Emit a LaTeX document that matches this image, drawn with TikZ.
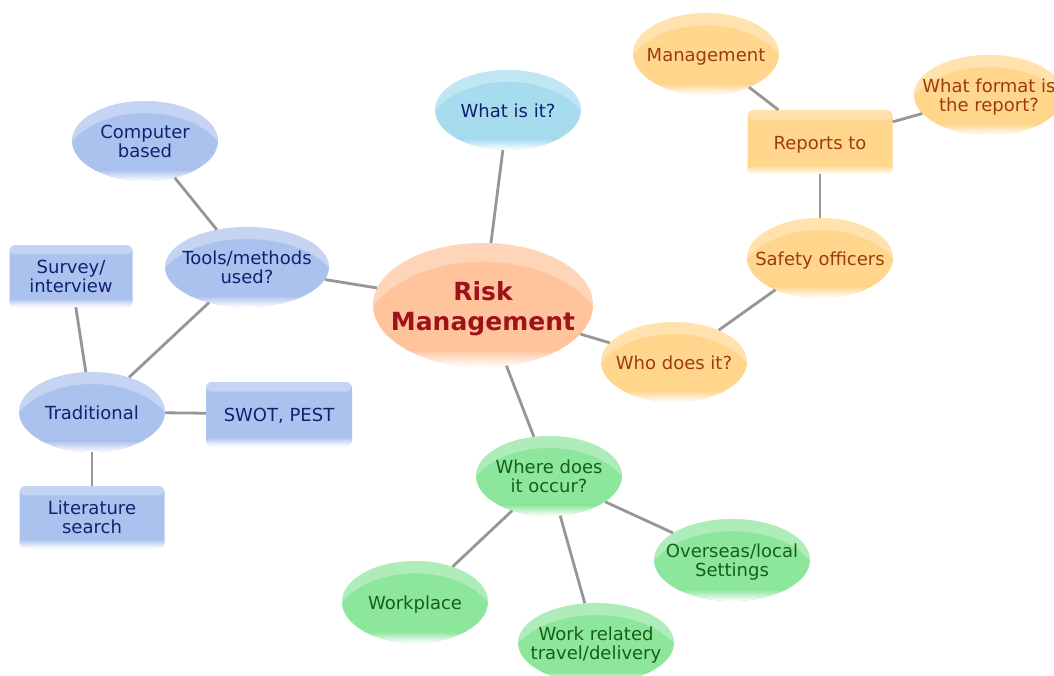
\documentclass[tikz,border=0pt]{standalone}
\usepackage{fontspec}
\setmainfont{DejaVu Sans}
\usetikzlibrary{shapes.geometric, calc}

\definecolor{bluefill}{RGB}{172,194,238}
\definecolor{bluetext}{RGB}{18,32,112}
\definecolor{cyanfill}{RGB}{166,220,238}
\definecolor{centrefill}{RGB}{255,196,156}
\definecolor{centretext}{RGB}{158,18,26}
\definecolor{orangefill}{RGB}{255,214,140}
\definecolor{orangetext}{RGB}{156,60,12}
\definecolor{greenfill}{RGB}{140,230,156}
\definecolor{greentext}{RGB}{22,96,22}
\definecolor{linegray}{RGB}{150,150,150}

% text that does not widen its node
\newcommand{\nodetext}[1]{\raisebox{-.42em}[0pt][0pt]{\makebox[0pt]{\begin{tabular}{@{}c@{}}#1\end{tabular}}}}

\begin{document}
\begin{tikzpicture}[x=1pt, y=-1pt,
  basecol/.code={\def\mapcol{#1}},
  basecol=bluefill,
  % lighter rim at the bottom
  fade/.code={\shade[top color=\mapcol, bottom color=white]
      ($(path picture bounding box.south west)!.14!(path picture bounding box.north west)$) rectangle
      (path picture bounding box.south east);},
  oval/.style={ellipse, inner sep=0pt, minimum width=146pt, minimum height=80pt,
    font=\fontsize{18}{19}\selectfont, fill=\mapcol, path picture={
      \fill[white, opacity=.3, even odd rule]
        let \p1=(path picture bounding box.south west), \p2=(path picture bounding box.north east) in
        (\p1) rectangle (\p2)
        ({(\x1+\x2)/2}, {.8*\y1+.2*\y2}) ellipse [x radius={.56*(\x2-\x1)}, y radius={.65*(\y2-\y1)}];
      \tikzset{fade}}},
  box/.style={rectangle, rounded corners=6pt, inner sep=0pt,
    minimum width=145pt, minimum height=62pt, font=\fontsize{18}{19}\selectfont, fill=\mapcol,
    path picture={
      \fill[white, opacity=.3] (path picture bounding box.north west) rectangle
        ($(path picture bounding box.north east)!.15!(path picture bounding box.south east)$);
      \tikzset{fade}}},
  blue/.style={basecol=bluefill, text=bluetext},
  orange/.style={basecol=orangefill, text=orangetext},
  green/.style={basecol=greenfill, text=greentext},
  link/.style={draw=linegray, line width=2.8pt}]
  \path[use as bounding box, clip] (0,0) rectangle (1054,675);

  % centre
  \node[basecol=centrefill, oval, text=centretext, minimum width=220pt, minimum height=124pt,
    font=\fontsize{25}{30}\selectfont\bfseries] (risk) at (483,305) {\nodetext{Risk\\Management}};
  \node[basecol=cyanfill, oval, text=bluetext] (what) at (508,110) {\nodetext{What is it?}};

  % tools branch
  \node[blue, oval, minimum width=164pt] (tools) at (247,267) {\nodetext{Tools/methods\\used?}};
  \node[blue, oval] (computer) at (145,141) {\nodetext{Computer\\based}};
  \node[blue, oval] (trad) at (92,412) {\nodetext{Traditional}};
  \node[blue, box, minimum width=123pt] (survey) at (71,276) {\nodetext{Survey/\\interview}};
  \node[blue, box, minimum width=146pt, minimum height=64pt] (swot) at (279,414) {\nodetext{SWOT, PEST}};
  \node[blue, box] (lit) at (92,517) {\nodetext{Literature\\search}};

  % who branch
  \node[orange, oval] (who) at (674,362) {\nodetext{Who does it?}};
  \node[orange, oval] (safety) at (820,258) {\nodetext{Safety officers}};
  \node[orange, box, minimum height=64pt] (reports) at (820,142) {\nodetext{Reports to}};
  \node[orange, oval, minimum height=82pt] (mgmt) at (706,54) {\nodetext{Management}};
  \node[orange, oval, minimum width=150pt] (format) at (989,95) {\nodetext{What format is\\the report?}};

  % where branch
  \node[green, oval] (where) at (549,476) {\nodetext{Where does\\it occur?}};
  \node[green, oval, minimum height=82pt] (workplace) at (415,602) {\nodetext{Workplace}};
  \node[green, oval, minimum width=156pt] (travel) at (596,643) {\nodetext{Work related\\travel/delivery}};
  \node[green, oval, minimum width=156pt, minimum height=82pt] (overseas) at (732,560) {\nodetext{Overseas/local\\Settings}};

  \draw[link] (risk) -- (what);
  \draw[link] (risk) -- (tools);
  \draw[link] (tools) -- (computer);
  \draw[link] (tools) -- (trad);
  \draw[link] (trad) -- (survey);
  \draw[link] (trad) -- (swot);
  \draw[link] (trad) -- (lit);
  \draw[link] (risk) -- (who);
  \draw[link] (who) -- (safety);
  \draw[link] (safety) -- (reports);
  \draw[link] (reports) -- (mgmt);
  \draw[link] (reports) -- (format);
  \draw[link] (risk) -- (where);
  \draw[link] (where) -- (workplace);
  \draw[link] (where) -- (travel);
  \draw[link] (where) -- (overseas);
\end{tikzpicture}
\end{document}
